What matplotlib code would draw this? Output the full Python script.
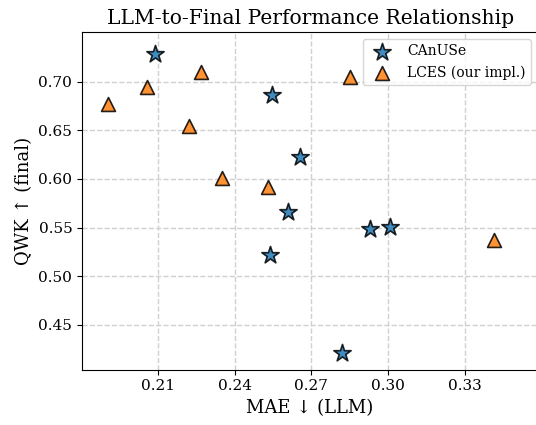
import matplotlib
matplotlib.use("Agg")
import matplotlib.pyplot as plt

plt.rcParams['font.family'] = ['DejaVu Serif']

canuse_mae = [0.209, 0.2547, 0.2656, 0.261, 0.254, 0.293, 0.301, 0.282]
canuse_qwk = [0.728, 0.686, 0.623, 0.566, 0.522, 0.549, 0.551, 0.421]
lces_mae = [0.1905, 0.2058, 0.227, 0.222, 0.235, 0.253, 0.285, 0.3416]
lces_qwk = [0.677, 0.694, 0.710, 0.654, 0.601, 0.592, 0.705, 0.537]

xticks = [0.21, 0.24, 0.27, 0.30, 0.33]
yticks = [0.45, 0.50, 0.55, 0.60, 0.65, 0.70]

fig, ax = plt.subplots(figsize=(5.36, 4.25), dpi=100)
ax.scatter(canuse_mae, canuse_qwk, marker='*', s=170, c='#1f77b4', edgecolors='black',
           linewidths=1.2, alpha=0.85, label='CAnUSe', zorder=3)
ax.scatter(lces_mae, lces_qwk, marker='^', s=100, c='#ff7f0e', edgecolors='black',
           linewidths=1.2, alpha=0.85, label='LCES (our impl.)', zorder=3)

ax.set_xticks(xticks)
ax.set_xticklabels([f"{t:.2f}" for t in xticks])
ax.set_yticks(yticks)
ax.set_yticklabels([f"{t:.2f}" for t in yticks])
ax.set_xlim(0.1803, 0.3588)
ax.set_ylim(0.404, 0.751)
ax.tick_params(labelsize=11)
ax.grid(True, linestyle='--', color='#d0d0d0', linewidth=1.0)
ax.set_axisbelow(True)
ax.set_xlabel('MAE ↓ (LLM)', fontsize=13)
ax.set_ylabel('QWK ↑ (final)', fontsize=13)
ax.set_title('LLM-to-Final Performance Relationship', fontsize=14.6)
ax.legend(loc='upper right', fontsize=10)

fig.subplots_adjust(left=0.153, right=1.004, top=0.925, bottom=0.13)
fig.savefig('out.png', dpi=100)
